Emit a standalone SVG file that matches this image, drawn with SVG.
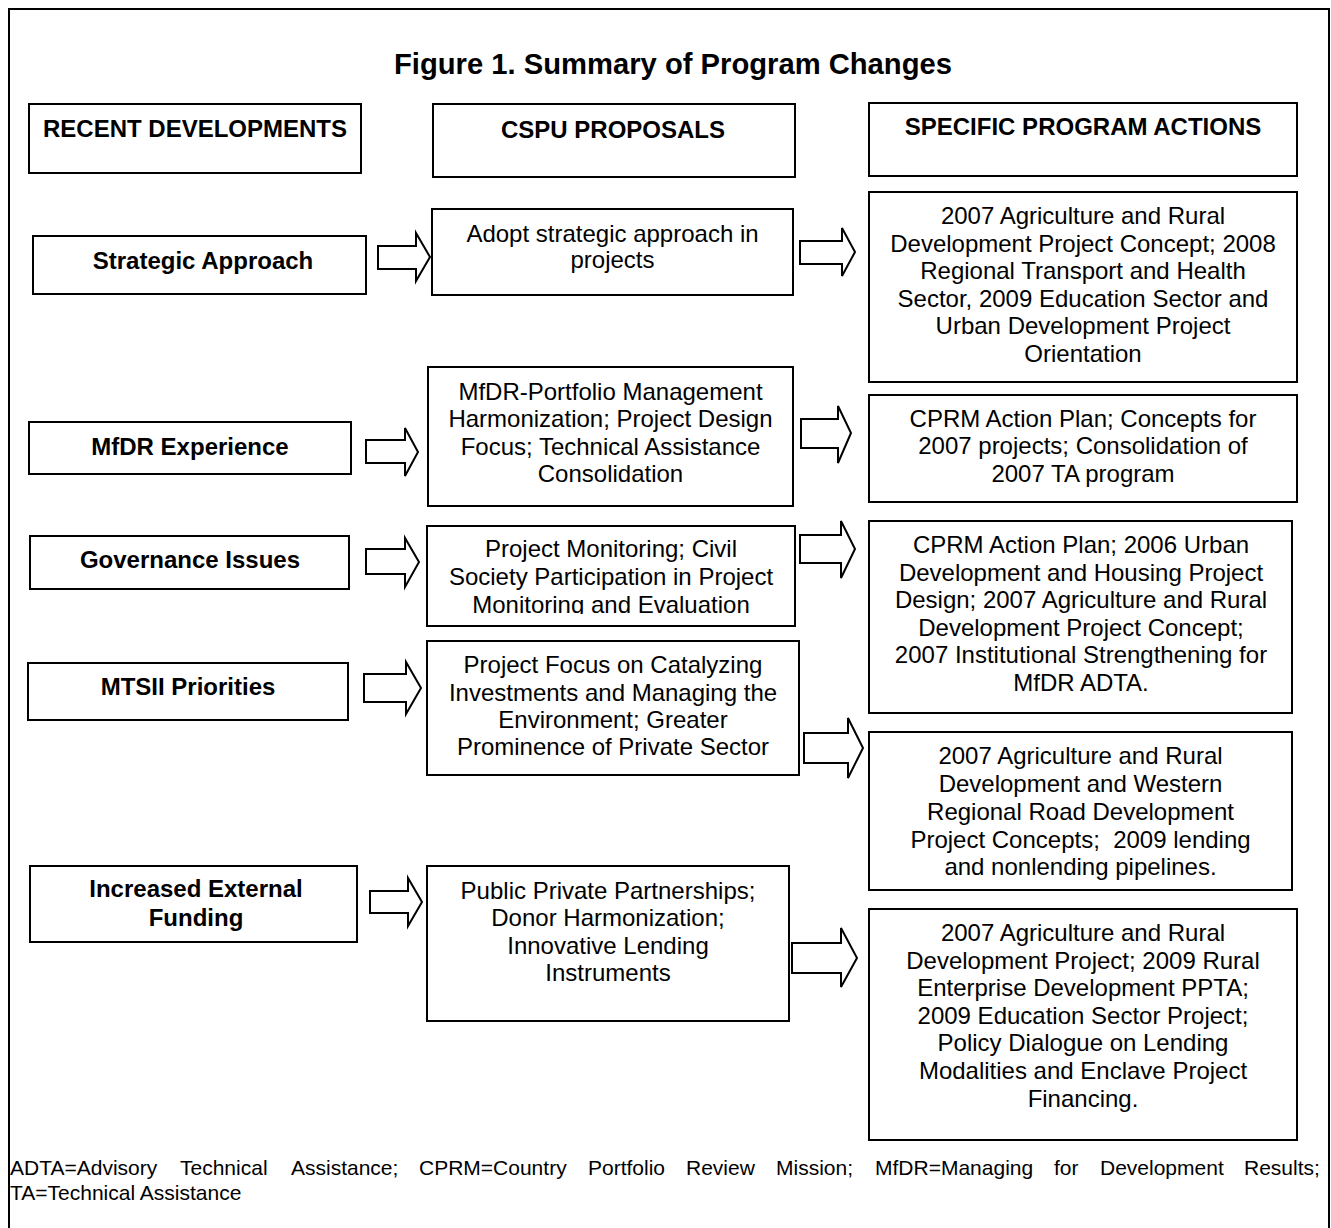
<svg xmlns="http://www.w3.org/2000/svg" width="1331" height="1228" viewBox="0 0 1331 1228">
<style>
.frame{fill:none;stroke:#000;stroke-width:2}
.box{fill:#fff;stroke:#000;stroke-width:2}
.arrow{fill:#fff;stroke:#000;stroke-width:2;stroke-linejoin:miter}
text{font-family:"Liberation Sans",Arial,Helvetica,sans-serif;fill:#000}
.t{font-size:24px;text-anchor:middle}
.b{font-size:24px;font-weight:bold;text-anchor:middle}
.title{font-size:29.2px;font-weight:bold;text-anchor:middle}
.fn{font-size:21px}
</style>
<defs>
<clipPath id="clipGov"><rect x="427" y="526" width="368" height="88"/></clipPath>
</defs>
<rect width="1331" height="1228" fill="#fff"/>
<rect class="frame" x="9" y="9" width="1320" height="1260"/>
<text class="title" x="673" y="74">Figure 1. Summary of Program Changes</text>

<g id="hdr-recent"><rect class="box" x="29" y="104" width="332" height="69"/><text class="b" x="195" y="137">RECENT DEVELOPMENTS</text></g>
<g id="hdr-cspu"><rect class="box" x="433" y="104" width="362" height="73"/><text class="b" x="613" y="138">CSPU PROPOSALS</text></g>
<g id="hdr-spa"><rect class="box" x="869" y="103" width="428" height="73"/><text class="b" x="1083" y="135">SPECIFIC PROGRAM ACTIONS</text></g>

<g id="rd-strategic"><rect class="box" x="33" y="236" width="333" height="58"/><text class="b" x="203" y="269">Strategic Approach</text></g>
<g id="rd-mfdr"><rect class="box" x="29" y="422" width="322" height="52"/><text class="b" x="190" y="455">MfDR Experience</text></g>
<g id="rd-gov"><rect class="box" x="30" y="536" width="319" height="53"/><text class="b" x="190" y="568">Governance Issues</text></g>
<g id="rd-mtsii"><rect class="box" x="28" y="663" width="320" height="57"/><text class="b" x="188" y="695">MTSII Priorities</text></g>
<g id="rd-ief"><rect class="box" x="30" y="866" width="327" height="76"/><text class="b" x="196" y="897">Increased External</text><text class="b" x="196" y="926">Funding</text></g>

<g id="cp-adopt"><rect class="box" x="432" y="209" width="361" height="86"/>
<text class="t" x="612.5" y="242">Adopt strategic approach in</text><text class="t" x="612.5" y="268">projects</text></g>
<g id="cp-mfdr"><rect class="box" x="428" y="367" width="365" height="139"/>
<text class="t" x="610.5" y="400">MfDR-Portfolio Management</text>
<text class="t" x="610.5" y="427">Harmonization; Project Design</text>
<text class="t" x="610.5" y="455">Focus; Technical Assistance</text>
<text class="t" x="610.5" y="482">Consolidation</text></g>
<g id="cp-gov"><rect class="box" x="427" y="526" width="368" height="100"/>
<g clip-path="url(#clipGov)">
<text class="t" x="611" y="557">Project Monitoring; Civil</text>
<text class="t" x="611" y="585">Society Participation in Project</text>
<text class="t" x="611" y="613">Monitoring and Evaluation</text></g></g>
<g id="cp-mtsii"><rect class="box" x="427" y="641" width="372" height="134"/>
<text class="t" x="613" y="673">Project Focus on Catalyzing</text>
<text class="t" x="613" y="701">Investments and Managing the</text>
<text class="t" x="613" y="728">Environment; Greater</text>
<text class="t" x="613" y="755">Prominence of Private Sector</text></g>
<g id="cp-ief"><rect class="box" x="427" y="866" width="362" height="155"/>
<text class="t" x="608" y="899">Public Private Partnerships;</text>
<text class="t" x="608" y="926">Donor Harmonization;</text>
<text class="t" x="608" y="954">Innovative Lending</text>
<text class="t" x="608" y="981">Instruments</text></g>

<g id="spa-strategic"><rect class="box" x="869" y="192" width="428" height="190"/>
<text class="t" x="1083" y="224">2007 Agriculture and Rural</text>
<text class="t" x="1083" y="252">Development Project Concept; 2008</text>
<text class="t" x="1083" y="279">Regional Transport and Health</text>
<text class="t" x="1083" y="307">Sector, 2009 Education Sector and</text>
<text class="t" x="1083" y="334">Urban Development Project</text>
<text class="t" x="1083" y="362">Orientation</text></g>
<g id="spa-mfdr"><rect class="box" x="869" y="395" width="428" height="107"/>
<text class="t" x="1083" y="427">CPRM Action Plan; Concepts for</text>
<text class="t" x="1083" y="454">2007 projects; Consolidation of</text>
<text class="t" x="1083" y="482">2007 TA program</text></g>
<g id="spa-gov"><rect class="box" x="869" y="521" width="423" height="192"/>
<text class="t" x="1081" y="553">CPRM Action Plan; 2006 Urban</text>
<text class="t" x="1081" y="581">Development and Housing Project</text>
<text class="t" x="1081" y="608">Design; 2007 Agriculture and Rural</text>
<text class="t" x="1081" y="636">Development Project Concept;</text>
<text class="t" x="1081" y="663">2007 Institutional Strengthening for</text>
<text class="t" x="1081" y="691">MfDR ADTA.</text></g>
<g id="spa-mtsii"><rect class="box" x="869" y="732" width="423" height="158"/>
<text class="t" x="1080.5" y="764">2007 Agriculture and Rural</text>
<text class="t" x="1080.5" y="792">Development and Western</text>
<text class="t" x="1080.5" y="820">Regional Road Development</text>
<text class="t" x="1080.5" y="848" style="white-space:pre">Project Concepts;  2009 lending</text>
<text class="t" x="1080.5" y="875">and nonlending pipelines.</text></g>
<g id="spa-ief"><rect class="box" x="869" y="909" width="428" height="231"/>
<text class="t" x="1083" y="941">2007 Agriculture and Rural</text>
<text class="t" x="1083" y="969">Development Project; 2009 Rural</text>
<text class="t" x="1083" y="996">Enterprise Development PPTA;</text>
<text class="t" x="1083" y="1024">2009 Education Sector Project;</text>
<text class="t" x="1083" y="1051">Policy Dialogue on Lending</text>
<text class="t" x="1083" y="1079">Modalities and Enclave Project</text>
<text class="t" x="1083" y="1107">Financing.</text></g>

<g id="connectors">
<polygon class="arrow" points="378,246 416,246 416,233 430,257 416,281 416,269 378,269"/>
<polygon class="arrow" points="800,241 842,241 842,228 855,252 842,276 842,264 800,264"/>
<polygon class="arrow" points="366,440 405,440 405,428 418,452 405,476 405,463 366,463"/>
<polygon class="arrow" points="801,419 838,419 838,406 851,433 838,463 838,448 801,448"/>
<polygon class="arrow" points="366,549 405,549 405,538 419,562 405,587 405,574 366,574"/>
<polygon class="arrow" points="800,535 841,535 841,521 855,549 841,578 841,563 800,563"/>
<polygon class="arrow" points="364,674 406,674 406,662 421,688 406,714 406,702 364,702"/>
<polygon class="arrow" points="804,733 848,733 848,718 863,748 848,778 848,763 804,763"/>
<polygon class="arrow" points="370,891 408,891 408,878 422,902 408,926 408,913 370,913"/>
<polygon class="arrow" points="792,943 841,943 841,928 857,958 841,987 841,973 792,973"/>
</g>

<text class="fn" y="1175"><tspan x="10">ADTA=Advisory</tspan><tspan x="180">Technical</tspan><tspan x="291">Assistance;</tspan><tspan x="419">CPRM=Country</tspan><tspan x="588">Portfolio</tspan><tspan x="686">Review</tspan><tspan x="776">Mission;</tspan><tspan x="875">MfDR=Managing</tspan><tspan x="1054">for</tspan><tspan x="1100">Development</tspan><tspan x="1244">Results;</tspan></text>
<text class="fn" x="10" y="1200">TA=Technical Assistance</text>
</svg>
